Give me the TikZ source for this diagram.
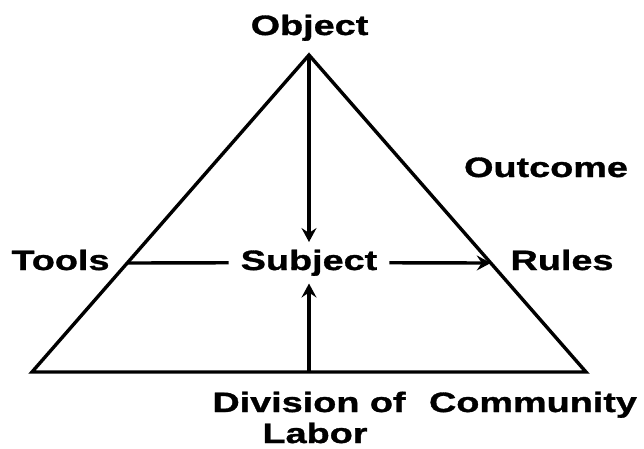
\documentclass[tikz,border=0pt]{standalone}
\usepackage{fontspec}
\setmainfont{Liberation Sans}[FakeStretch=1.35,BoldFeatures={FakeBold=1.2}]
\usetikzlibrary{arrows.meta,calc}
\begin{document}
\begin{tikzpicture}[x=1pt,y=-1pt,
  lbl/.style={font=\fontsize{28}{30}\selectfont\bfseries, inner sep=0pt, anchor=base},
  edge/.style={line width=3.4pt},
  tip/.style={-{Stealth[length=14pt,width=15pt,inset=5pt]}}]
\useasboundingbox (0,0) rectangle (644,448);
\coordinate (apex) at (309,55);
\coordinate (bl) at (32,372);
\coordinate (br) at (586,372);
\draw[edge, line join=miter] (apex) -- (bl) -- (br) -- cycle;
\node[lbl] (object) at (309.5,35) {Object};
\node[lbl, inner xsep=12pt, inner ysep=7.5pt] (subject) at (309,270) {Subject};
\node[lbl] (tools) at (60.5,270) {Tools};
\node[lbl] (rules) at (562,270) {Rules};
\node[lbl] (outcome) at (546,177) {Outcome};
\node[lbl] (division) at (309,412) {Division of};
\node[lbl] (labor) at (315,443) {Labor};
\node[lbl] (community) at (533,412) {Community};
\coordinate (lx) at ($(apex)!{208/317}!(bl)$);
\coordinate (rx) at ($(apex)!{208/317}!(br)$);
\coordinate (bx) at (subject.south |- bl);
\draw[edge] (lx) -- (subject.west);
\draw[edge,tip] (subject.east) -- (rx);
\draw[edge,tip] (apex) -- (subject.north);
\draw[edge,tip] (bx) -- (subject.south);
\end{tikzpicture}
\end{document}
